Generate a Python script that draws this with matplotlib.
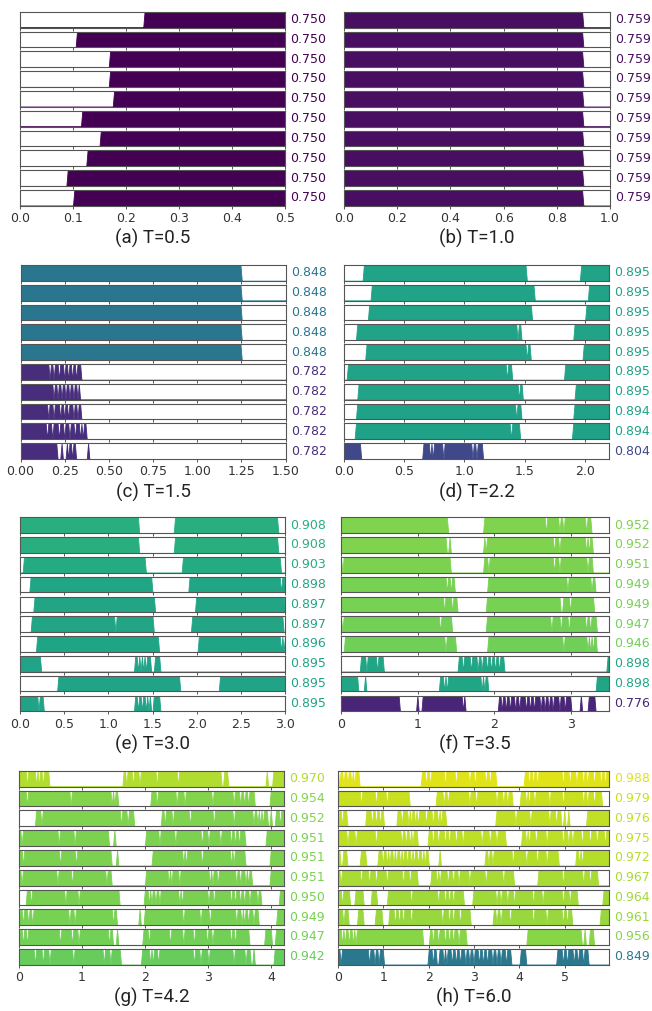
import numpy as np
import matplotlib.pyplot as plt
from matplotlib import colors

# ---- data: per panel, 10 strips; "on" intervals (t0, t1) and single-sample dips ----
T_a = 0.5
vals_a = [0.750, 0.750, 0.750, 0.750, 0.750, 0.750, 0.750, 0.750, 0.750, 0.750]
on_a = [[(0.234, 0.5)], [(0.108, 0.5)], [(0.169, 0.5)], [(0.169, 0.5)], [(0.178, 0.5)],
        [(0.118, 0.5)], [(0.153, 0.5)], [(0.128, 0.5)], [(0.090, 0.5)], [(0.103, 0.5)]]
dips_a = [[], [], [], [], [], [], [], [], [], []]

T_b = 1.0
vals_b = [0.759, 0.759, 0.759, 0.759, 0.759, 0.759, 0.759, 0.759, 0.759, 0.759]
on_b = [[(0, 0.893)], [(0, 0.893)], [(0, 0.893)], [(0, 0.893)], [(0, 0.893)],
        [(0, 0.893)], [(0, 0.893)], [(0, 0.893)], [(0, 0.893)], [(0, 0.893)]]
dips_b = [[], [], [], [], [], [], [], [], [], []]

T_c = 1.5
vals_c = [0.848, 0.848, 0.848, 0.848, 0.848, 0.782, 0.782, 0.782, 0.782, 0.782]
on_c = [[(0, 1.243)], [(0, 1.243)], [(0, 1.243)], [(0, 1.243)], [(0, 1.243)],
        [(0, 0.34)], [(0, 0.33)], [(0, 0.34)], [(0, 0.37)],
        [(0, 0.205), (0.236, 0.236), (0.26, 0.285), (0.3, 0.31), (0.385, 0.385)]]
dips_c = [[], [], [], [], [],
          [0.165, 0.19, 0.215, 0.245, 0.27, 0.29, 0.315],
          [0.19, 0.21, 0.235, 0.255, 0.28, 0.3, 0.32],
          [0.16, 0.185, 0.225, 0.25, 0.27, 0.3, 0.32],
          [0.15, 0.18, 0.22, 0.25, 0.28, 0.31, 0.335, 0.355],
          [0.272]]

T_d = 2.2
vals_d = [0.895, 0.895, 0.895, 0.895, 0.895, 0.895, 0.895, 0.894, 0.894, 0.804]
on_d = [[(0.168, 1.508), (1.97, 2.2)], [(0.235, 1.575), (2.04, 2.2)],
        [(0.213, 1.552), (2.017, 2.2)], [(0.113, 1.467), (1.914, 2.2)],
        [(0.188, 1.54), (1.99, 2.2)], [(0.03, 1.384), (1.837, 2.2)],
        [(0.124, 1.472), (1.928, 2.2)], [(0.11, 1.467), (1.914, 2.2)],
        [(0.1, 1.45), (1.903, 2.2)], [(0, 0.127), (0.663, 1.149)]]
dips_d = [[], [], [], [1.44], [1.52], [1.356], [1.447], [1.425], [1.39],
          [0.713, 0.74, 0.823, 1.07, 1.105]]

T_e = 3.0
vals_e = [0.908, 0.908, 0.903, 0.898, 0.897, 0.897, 0.896, 0.895, 0.895, 0.895]
on_e = [[(0, 1.34), (1.762, 2.917)], [(0, 1.34), (1.762, 2.917)],
        [(0.045, 1.404), (1.838, 2.943)], [(0.12, 1.479), (1.925, 2.98)],
        [(0.166, 1.52), (1.989, 2.985)], [(0.136, 1.502), (1.955, 2.974)],
        [(0.2, 1.555), (2.019, 3.0)], [(0, 0.219), (1.3, 1.47), (1.53, 1.57)],
        [(0.442, 1.8), (2.264, 3.0)],
        [(0, 0.18), (0.2, 0.2), (0.23, 0.253), (1.3, 1.47), (1.52, 1.57)]]
dips_e = [[], [], [], [2.955], [], [1.087], [2.96, 2.985],
          [1.33, 1.37, 1.4, 1.43], [], [1.34, 1.38, 1.42, 1.45]]

T_f = 3.5
vals_f = [0.952, 0.952, 0.951, 0.949, 0.949, 0.947, 0.946, 0.898, 0.898, 0.776]
on_f = [[(0, 1.387), (1.875, 3.253)],
        [(0, 1.37), (1.42, 1.42), (1.88, 1.88), (1.9, 3.27)],
        [(0, 1.409), (1.875, 3.275)],
        [(0, 1.474), (1.932, 3.306)],
        [(0, 1.509), (1.91, 3.284)],
        [(0, 1.44), (1.91, 3.319)],
        [(0.057, 1.483), (1.932, 3.33)],
        [(0.266, 0.545), (1.54, 2.12), (3.49, 3.5)],
        [(0, 0.218), (0.318, 0.318), (1.3, 1.91), (3.35, 3.5)],
        [(0, 0.746), (1.0, 1.0), (1.07, 1.57), (1.605, 1.605), (2.063, 3.0),
         (3.13, 3.13), (3.24, 3.3)]]
dips_f = [[2.686, 2.861, 2.913, 3.2],
          [2.79, 2.85, 3.2, 3.24],
          [0.013, 1.92, 2.79, 2.86, 3.22],
          [1.378, 1.43, 2.966, 3.28],
          [1.343, 1.452, 2.87, 2.89, 3.0],
          [0.013, 1.3, 2.74, 2.87, 2.97, 3.2, 3.26],
          [1.365, 2.913, 3.22, 3.25, 3.29],
          [0.34, 0.47, 1.596, 1.69, 1.78, 1.845, 1.9, 1.954, 2.006, 2.06],
          [1.343, 1.387, 1.84, 1.875],
          [2.1, 2.15, 2.2, 2.28, 2.33, 2.41, 2.47, 2.52, 2.6, 2.66, 2.72, 2.76, 2.86, 2.92]]

T_g = 4.2
vals_g = [0.970, 0.954, 0.952, 0.951, 0.951, 0.951, 0.950, 0.949, 0.947, 0.942]
on_g = [[(0, 0.46), (1.668, 3.19), (3.25, 3.3), (3.93, 3.93), (4.04, 4.2)],
        [(0.026, 1.557), (2.1, 3.72), (3.98, 4.2)],
        [(0.265, 1.8), (2.26, 3.93), (4.0, 4.0), (4.08, 4.2)],
        [(0, 1.414), (1.52, 1.52), (2.02, 3.56), (3.93, 4.2)],
        [(0, 1.44), (1.547, 1.547), (2.13, 3.56), (4.0, 4.2)],
        [(0, 1.44), (2.02, 3.665), (3.98, 4.2)],
        [(0.117, 1.573), (2.0, 3.82), (4.13, 4.2)],
        [(0.02, 1.54), (1.92, 1.92), (2.0, 3.77), (4.09, 4.2)],
        [(0.02, 1.467), (1.547, 1.547), (1.97, 3.64), (3.9, 3.98), (4.08, 4.2)],
        [(0, 1.6), (1.944, 3.655), (3.72, 3.72), (4.06, 4.2)]]
dips_g = [[0.13, 0.265, 0.318, 0.38, 1.705, 1.81, 1.917, 2.18, 2.526],
          [0.117, 0.815, 1.467, 1.52, 2.18, 2.49, 2.63, 3.066, 3.4, 3.5, 3.56, 3.64],
          [0.355, 1.626, 1.73, 2.3, 2.44, 2.71, 3.08, 3.4, 3.72, 3.77, 3.82, 3.87, 4.14],
          [0.037, 0.62, 0.885, 2.235, 2.473, 2.9, 3.0, 3.19, 3.35, 3.43, 3.48],
          [0.064, 0.646, 0.9, 2.6, 2.64, 2.9, 3.35, 3.4],
          [0.05, 0.6, 0.83, 1.38, 2.37, 2.42, 2.55, 3.03, 3.07, 3.14, 3.45, 3.5, 3.59, 3.63],
          [0.196, 0.726, 0.937, 2.06, 2.11, 2.17, 2.235, 2.55, 2.59, 3.0, 3.08, 3.35,
           3.43, 3.5, 3.56, 3.65, 3.77],
          [0.07, 0.143, 0.2, 0.805, 0.885, 1.49, 2.6, 2.87, 3.03, 3.45, 3.53, 3.56, 3.64, 3.71],
          [0.07, 0.117, 0.646, 0.83, 0.937, 1.42, 2.05, 2.394, 2.6, 2.765, 2.98, 3.07, 3.37, 3.42],
          [0.25, 0.38, 0.487, 0.858, 1.335, 1.44, 2.076, 2.13, 2.2, 2.775, 2.87, 3.0, 3.4, 3.6]]

T_h = 5.98
vals_h = [0.988, 0.979, 0.976, 0.975, 0.972, 0.967, 0.964, 0.961, 0.956, 0.849]
on_h = [[(0, 0.46), (1.86, 3.456), (4.14, 5.98)],
        [(0, 1.544), (2.18, 3.82), (4.04, 5.81)],
        [(0.02, 0.17), (0.64, 0.99), (1.32, 2.35), (3.49, 4.89), (5.0, 5.0), (5.08, 5.08), (5.51, 5.98)],
        [(0, 1.72), (2.0, 3.68), (4.07, 5.98)],
        [(0, 0.17), (0.5, 0.6), (0.9, 1.98), (2.25, 2.25), (3.27, 4.85), (5.25, 5.98)],
        [(0, 1.73), (2.06, 3.86), (4.43, 5.7)],
        [(0, 0.24), (0.4, 0.55), (0.75, 0.85), (1.1, 2.76), (2.98, 5.26), (5.85, 5.98)],
        [(0, 0.2), (0.45, 0.55), (0.85, 0.95), (1.15, 2.9), (3.45, 5.15), (5.8, 5.98)],
        [(0, 1.86), (2.02, 2.8), (4.2, 5.35), (5.45, 5.45), (5.55, 5.62)],
        [(0, 0.98), (2.0, 2.15), (2.25, 3.8), (4.05, 4.12), (4.85, 5.5)]]
dips_h = [[0.04, 0.125, 0.22, 0.294, 0.368, 1.95, 2.02, 2.35, 2.6, 2.89, 3.01, 3.27, 3.35,
           4.23, 4.3, 4.41, 4.96, 5.11, 5.26, 5.4, 5.51, 5.66, 5.81, 5.9],
          [0.515, 0.846, 1.066, 2.32, 2.43, 2.89, 3.05, 3.49, 3.64, 3.75, 4.15, 4.23, 4.34,
           4.67, 4.96, 5.4, 5.51, 5.66],
          [0.08, 0.735, 0.846, 0.92, 1.4, 1.544, 1.62, 1.69, 1.76, 1.95, 2.1, 2.2, 2.28,
           3.93, 4.26, 4.67, 4.82],
          [0.22, 0.4, 0.846, 1.4, 1.49, 1.57, 1.65, 2.1, 2.2, 2.35, 2.46, 2.6, 2.76, 3.16,
           3.35, 3.49, 4.15, 4.23, 4.36, 4.6, 4.96, 5.07, 5.18, 5.37, 5.55, 5.7, 5.88],
          [0.05, 0.1, 1.0, 1.07, 1.15, 1.22, 1.3, 1.37, 1.45, 1.52, 1.6, 1.68, 1.75, 1.85,
           1.92, 3.32, 3.42, 3.86, 4.15, 4.4, 4.6, 5.32, 5.38],
          [0.07, 0.515, 0.7, 0.85, 1.066, 1.43, 1.58, 2.17, 2.25, 2.43, 2.54, 2.65, 2.9,
           3.27, 3.64, 4.96, 5.4, 5.55],
          [0.1, 1.6, 2.2, 2.35, 2.45, 2.55, 3.5, 3.6, 3.75, 3.9, 4.3, 4.5, 4.95, 5.1],
          [0.12, 1.25, 1.35, 1.45, 1.6, 2.3, 2.45, 2.55, 2.7, 3.5, 3.6, 3.8, 4.3, 4.6, 4.95, 5.05],
          [0.08, 0.15, 0.25, 0.32, 0.4, 2.1, 2.2, 2.35, 2.45, 2.55, 2.65],
          [0.05, 0.7, 0.8, 0.9, 2.08, 2.32, 2.4, 2.5, 2.6, 2.7, 2.8, 2.9, 3.0, 3.1, 3.2,
           3.3, 3.4, 3.5, 3.6, 3.7, 4.95, 5.05, 5.2, 5.3, 5.4]]

ticks_a = ['0.0', '0.1', '0.2', '0.3', '0.4', '0.5']
ticks_b = ['0.0', '0.2', '0.4', '0.6', '0.8', '1.0']
ticks_c = ['0.00', '0.25', '0.50', '0.75', '1.00', '1.25', '1.50']
ticks_d = ['0.0', '0.5', '1.0', '1.5', '2.0']
ticks_e = ['0.0', '0.5', '1.0', '1.5', '2.0', '2.5', '3.0']
ticks_f = ['0', '1', '2', '3']
ticks_g = ['0', '1', '2', '3', '4']
ticks_h = ['0', '1', '2', '3', '4', '5']

W, H = 652, 1011
fig = plt.figure(figsize=(W / 100, H / 100), dpi=100)
norm = colors.Normalize(0.75, 1.0)
cmap = plt.get_cmap('viridis')
NS = 200
STRIP_H, PITCH = 15.8, 19.8


def panel(left, right, top, T, ticks, vals, ons, dips, caption):
    dt = T / NS
    t = np.arange(NS + 1) * dt
    for k in range(10):
        y0 = top + k * PITCH
        ax = fig.add_axes([left / W, 1 - (y0 + STRIP_H) / H, (right - left) / W, STRIP_H / H])
        sig = np.zeros(NS + 1)
        for a, b in ons[k]:
            sig[int(round(a / dt)):int(round(b / dt)) + 1] = 1
        for d in dips[k]:
            sig[int(round(d / dt))] = 0
        c = cmap(norm(vals[k]))
        ax.fill_between(t, 0, sig, color=c, linewidth=0.6)
        ax.set_xlim(0, T)
        ax.set_ylim(0, 1)
        ax.set_yticks([])
        ax.set_xticks([float(s) for s in ticks])
        ax.set_xticklabels(ticks)
        ax.tick_params(axis='x', length=2.5, width=0.7, color='#555555', pad=2,
                       labelsize=9, labelcolor='#333333', labelbottom=(k == 9))
        for sp in ax.spines.values():
            sp.set_color('#555555')
            sp.set_linewidth(0.8)
        ax.annotate(f'{vals[k]:.3f}', xy=(1, 0.5), xycoords='axes fraction',
                    xytext=(3.8, 0), textcoords='offset points', va='center', ha='left',
                    color=c, fontsize=9)
    ybot = top + 9 * PITCH + STRIP_H
    fig.text((left + right) / 2 / W, 1 - (ybot + 33) / H, caption,
             ha='center', va='center', family='Roboto', fontsize=13.5, color='#222222')


panel(20, 285, 11.7, T_a, ticks_a, vals_a, on_a, dips_a, '(a) T=0.5')
panel(344, 610, 11.7, T_b, ticks_b, vals_b, on_b, dips_b, '(b) T=1.0')
panel(20.5, 285.5, 265, T_c, ticks_c, vals_c, on_c, dips_c, '(c) T=1.5')
panel(344, 609, 265, T_d, ticks_d, vals_d, on_d, dips_d, '(d) T=2.2')
panel(20, 285, 517.3, T_e, ticks_e, vals_e, on_e, dips_e, '(e) T=3.0')
panel(341, 609, 517.3, T_f, ticks_f, vals_f, on_f, dips_f, '(f) T=3.5')
panel(19, 284, 770.7, T_g, ticks_g, vals_g, on_g, dips_g, '(g) T=4.2')
panel(338, 609, 770.7, T_h, ticks_h, vals_h, on_h, dips_h, '(h) T=6.0')

fig.savefig('out.png', dpi=100)
